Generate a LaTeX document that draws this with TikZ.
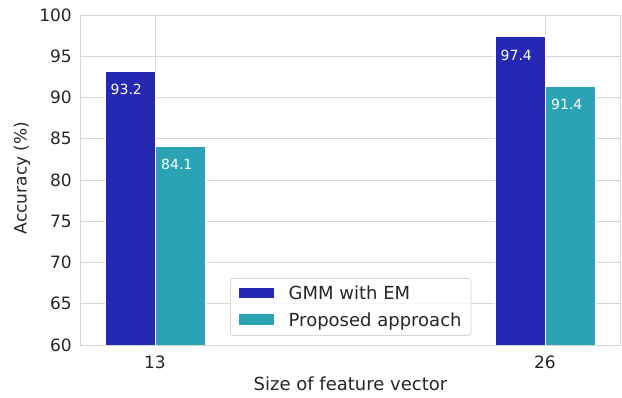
\documentclass[tikz,border=0pt]{standalone}
\usepackage{fontspec}
\setmainfont{DejaVu Sans}
\begin{document}
\begin{tikzpicture}[x=1pt,y=-1pt,
  txt/.style={text=textgray,inner sep=0pt,font=\fontsize{17}{17}\selectfont},
  bigtxt/.style={txt,font=\fontsize{18}{18}\selectfont},
  vallabel/.style={text=white,inner sep=0pt,anchor=north west,font=\fontsize{14}{14}\selectfont},
  gridline/.style={draw=gridgray,line width=0.9pt},
  barA/.style={fill=gmmblue,draw=white,line width=0.8pt},
  barB/.style={fill=proptea,draw=white,line width=0.8pt}]
\definecolor{textgray}{HTML}{262626}
\definecolor{gridgray}{HTML}{D6D6D6}
\definecolor{gmmblue}{HTML}{2528B3}
\definecolor{proptea}{HTML}{2AA4B4}
\useasboundingbox (0,0) rectangle (622,397);
% horizontal grid lines and y tick labels (60..100, step 5)
\foreach \v [count=\i] in {60,65,...,100}{
  \pgfmathsetmacro{\yy}{345-(\v-60)*8.25}
  \draw[gridline] (80.5,\yy) -- (620,\yy);
  \node[txt,anchor=east] (ytick\i) at (72,\yy) {\v};
}
% vertical grid lines at the categories
\draw[gridline] (155,15) -- (155,345);
\draw[gridline] (545,15) -- (545,345);
% bars
\pgfmathsetmacro{\ya}{345-(93.2-60)*8.25}
\pgfmathsetmacro{\yb}{345-(84.1-60)*8.25}
\pgfmathsetmacro{\yc}{345-(97.4-60)*8.25}
\pgfmathsetmacro{\yd}{345-(91.4-60)*8.25}
\draw[barA] (105,345) rectangle (155,\ya);
\draw[barB] (155,345) rectangle (205.5,\yb);
\draw[barA] (495,345) rectangle (545,\yc);
\draw[barB] (545,345) rectangle (595.5,\yd);
\node[vallabel] (lab1) at (110.5,\ya+13) {93.2};
\node[vallabel] (lab2) at (161,\yb+13) {84.1};
\node[vallabel] (lab3) at (500.5,\yc+13) {97.4};
\node[vallabel] (lab4) at (551,\yd+13) {91.4};
% axes frame
\draw[draw=gridgray,line width=1pt] (80.5,15) rectangle (620.5,345);
% x tick labels and axis titles
\node[txt,anchor=base] (xt1) at (155,368) {13};
\node[txt,anchor=base] (xt2) at (545,368) {26};
\node[bigtxt,anchor=base] (xlab) at (350.5,390) {Size of feature vector};
\node[txt,rotate=90,anchor=center] (ylab) at (22,178) {Accuracy (\%)};
% legend
\draw[draw=gridgray,fill=white,fill opacity=0.8,rounded corners=3pt,line width=0.8pt] (230.5,278.5) rectangle (471,335.5);
\fill[gmmblue] (238.5,287.5) rectangle (273.5,298);
\fill[proptea] (238.5,313.5) rectangle (273.5,324.5);
\node[bigtxt,anchor=base west] (leg1) at (288.5,299.5) {GMM with EM};
\node[bigtxt,anchor=base west] (leg2) at (288.5,326) {Proposed approach};
\end{tikzpicture}
\end{document}
